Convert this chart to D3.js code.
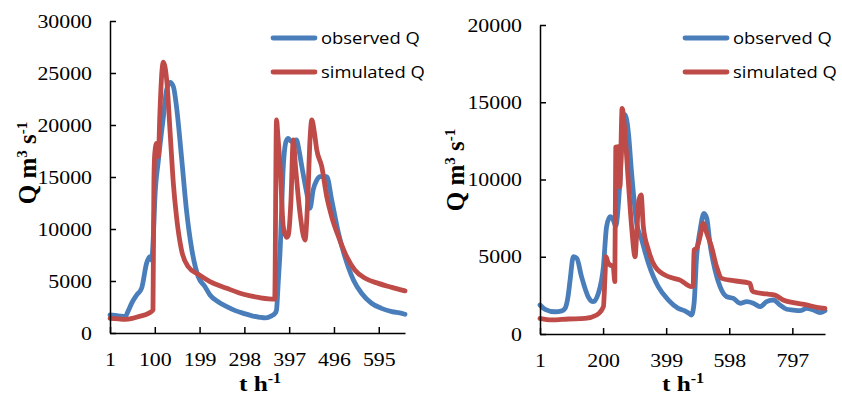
<!DOCTYPE html>
<html>
<head>
<meta charset="utf-8">
<script src="https://cdn.jsdelivr.net/npm/d3@7"></script>
<style>
  body { margin: 0; background: #fff; }
  svg { display: block; }
</style>
</head>
<body>
<svg id="chart" width="842" height="397"></svg>
<script>
// tick labels
let leftXTicks = [1, 100, 199, 298, 397, 496, 595];
let rightXTicks = [1, 200, 399, 598, 797];
let leftYTicks = [0, 5000, 10000, 15000, 20000, 25000, 30000];
let rightYTicks = [0, 5000, 10000, 15000, 20000];
let seriesNames = ["observed Q", "simulated Q"];

// left event, [t, Q]
let leftObserved = [[1,1730],[20,1650],[34,1570],[42,2200],[49,2880],[60,3650],[71,4330],[82,6730],[89,7340],[93,7020],[97,9500],[100,12800],[108,16630],[119,20800],[126,23360],[134,24100],[141,23700],[148,21760],[159,16950],[170,11830],[182,7980],[196,5410],[211,4450],[222,3650],[240,3000],[259,2530],[278,2150],[296,1890],[315,1650],[332,1510],[345,1450],[358,1650],[366,1900],[369,2210],[373,5000],[377,7980],[384,16000],[390,18400],[395,18720],[402,18400],[413,18560],[419,17500],[425,16000],[436,13430],[443,11990],[450,13750],[458,14700],[465,15030],[480,15030],[491,12790],[506,9590],[520,7340],[539,5100],[557,3820],[579,2860],[601,2370],[624,2050],[646,1890],[653,1800]];
let leftSimulated = [[1,1410],[20,1350],[34,1310],[50,1400],[63,1570],[86,1890],[96,2210],[98,14400],[100,17280],[104,18240],[106,17500],[108,16950],[111,20800],[116,25290],[119,26050],[123,25500],[127,24000],[134,19200],[141,14390],[148,11180],[159,7980],[174,6370],[196,5650],[222,4950],[259,4300],[296,3720],[332,3400],[365,3250],[369,20500],[372,19000],[377,16000],[384,10220],[391,9200],[395,9400],[401,12790],[406,18560],[411,16000],[421,11500],[432,8940],[438,12790],[443,18560],[447,20480],[453,19200],[458,17600],[469,16000],[480,13110],[491,11180],[506,9260],[524,7340],[542,6060],[565,5260],[594,4770],[624,4390],[653,4050]];

// right event, [t, Q]
let rightObserved = [[1,1880],[17,1600],[48,1440],[70,1500],[80,1660],[90,2500],[96,3500],[106,5000],[117,4900],[132,3710],[153,2410],[169,2090],[185,2630],[201,4360],[211,6940],[222,7590],[232,7380],[240,7000],[252,9500],[262,13000],[269,14200],[275,13800],[280,12990],[290,10400],[306,7160],[322,6080],[343,4580],[374,3060],[406,2200],[437,1660],[458,1490],[470,1350],[479,1230],[487,1990],[495,5000],[506,6730],[518,7810],[527,7490],[537,5870],[553,4140],[569,3060],[590,2410],[611,2310],[632,1990],[653,2090],[674,1990],[695,1770],[716,2090],[737,2200],[758,1880],[779,1600],[800,1550],[821,1510],[842,1660],[863,1550],[884,1380],[900,1510]];
let rightSimulated = [[1,1010],[38,910],[90,970],[143,1010],[180,1230],[201,1770],[206,3710],[209,5000],[216,4600],[222,4470],[232,4360],[237,3390],[240,12100],[248,12120],[253,9530],[260,14600],[269,12990],[280,9750],[290,6940],[301,5000],[306,6520],[313,8670],[320,9000],[327,6940],[343,5440],[364,4360],[406,3710],[443,3490],[479,3060],[484,3100],[487,5440],[495,5550],[506,6300],[516,7160],[527,6520],[542,5650],[558,4360],[574,3600],[611,3450],[663,3280],[670,2800],[674,2740],[716,2590],[742,2520],[768,2200],[800,2030],[842,1880],[874,1730],[900,1660]];

let colors = ["#4a7ebb", "#be4b48"];
let stretch = 1.15;
let serif = "Liberation Serif";
let sans = "Open Sans";

let svg = d3.select("#chart");
svg.append("rect").attr("width", 842).attr("height", 397).attr("fill", "#fff");

let panels = [
    {x0: 110, x1: 405, y0: 333, y1: 21, tMax: 653, yMax: 30000, xTicks: leftXTicks, yTicks: leftYTicks,
     series: [leftObserved, leftSimulated], legendX: 273, yTitleX: 27, yTitleY: 163, xTitleX: 260},
    {x0: 540, x1: 825, y0: 334, y1: 25, tMax: 900, yMax: 20000, xTicks: rightXTicks, yTicks: rightYTicks,
     series: [rightObserved, rightSimulated], legendX: 685, yTitleX: 455, yTitleY: 170, xTitleX: 683}
];

function widen(sel) {
    // the picture is a bit wider than tall, so stretch text sideways
    sel.each(function () {
        let t = d3.select(this);
        let x = +t.attr("x") || 0;
        t.attr("x", x / stretch).attr("transform", `scale(${stretch},1)`);
    });
}

panels.forEach(function (p) {
    let x = d3.scaleLinear().domain([1, p.tMax]).range([p.x0, p.x1]);
    let y = d3.scaleLinear().domain([0, p.yMax]).range([p.y0, p.y1]);

    let line = d3.line()
        .x(d => x(d[0]))
        .y(d => y(d[1]))
        .curve(d3.curveMonotoneX);

    let g = svg.append("g");

    p.series.forEach(function (s, i) {
        g.append("path").datum(s)
            .attr("d", line)
            .attr("fill", "none")
            .attr("stroke", colors[i])
            .attr("stroke-width", 4.8)
            .attr("stroke-linejoin", "round")
            .attr("stroke-linecap", "round");
    });

    let ya = g.append("g")
        .attr("transform", `translate(${p.x0},0)`)
        .call(d3.axisLeft(y).tickValues(p.yTicks).tickFormat(d3.format("d"))
            .tickSizeInner(-6).tickSizeOuter(0).tickPadding(18));
    let xa = g.append("g")
        .attr("transform", `translate(0,${p.y0})`)
        .call(d3.axisBottom(x).tickValues(p.xTicks).tickFormat(d3.format("d"))
            .tickSizeInner(-6).tickSizeOuter(0).tickPadding(20));

    [ya, xa].forEach(a => {
        a.attr("font-family", serif).attr("font-size", 19);
        a.select(".domain").attr("stroke", "#000").attr("stroke-width", 1.5);
        a.selectAll(".tick line").attr("stroke", "#000").attr("stroke-width", 1.5);
        a.selectAll(".tick text").attr("fill", "#000");
        widen(a.selectAll(".tick text"));
    });

    // legend
    let lg = g.append("g").attr("font-family", sans).attr("font-size", 16);
    seriesNames.forEach(function (name, i) {
        let ly = 38 + i * 34;
        lg.append("line")
            .attr("x1", p.legendX).attr("x2", p.legendX + 42)
            .attr("y1", ly).attr("y2", ly)
            .attr("stroke", colors[i]).attr("stroke-width", 4.8)
            .attr("stroke-linecap", "round");
        let t = lg.append("text")
            .attr("x", p.legendX + 48).attr("y", ly).attr("dy", "0.35em")
            .text(name);
        widen(t);
    });

    // axis titles
    let yt = g.append("text")
        .attr("font-family", serif).attr("font-weight", "bold")
        .attr("transform", `translate(${p.yTitleX},${p.yTitleY}) rotate(-90)`)
        .attr("text-anchor", "middle").attr("dy", "0.35em")
        .attr("font-size", 25);
    yt.append("tspan").text("Q m");
    yt.append("tspan").attr("dy", -9).attr("font-size", 15).text("3");
    yt.append("tspan").attr("dy", 9).text(" s");
    yt.append("tspan").attr("dy", -9).attr("font-size", 15).text("-1");

    let xt = g.append("text")
        .attr("font-family", serif).attr("font-weight", "bold")
        .attr("x", p.xTitleX).attr("y", 391)
        .attr("text-anchor", "middle")
        .attr("font-size", 22);
    xt.append("tspan").text("t h");
    xt.append("tspan").attr("dy", -8).attr("font-size", 14).text("-1");
    widen(xt);
});
</script>
</body>
</html>
